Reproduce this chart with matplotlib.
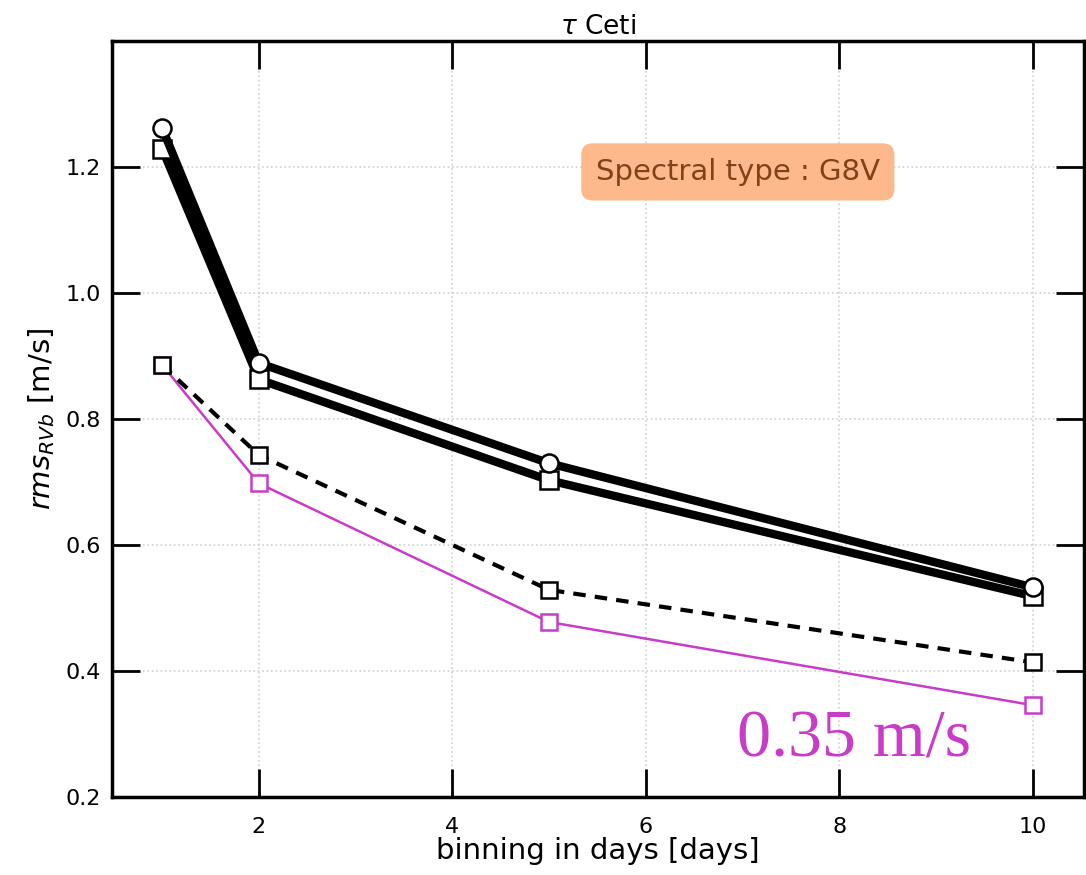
import matplotlib
matplotlib.use("Agg")
from matplotlib import pyplot as plt

# binning (days) and rms of the RV residuals (m/s)
bins = [1, 2, 5, 10]
rms_circle = [1.262, 0.889, 0.730, 0.533]
rms_square = [1.229, 0.863, 0.703, 0.519]
rms_dashed = [0.886, 0.743, 0.529, 0.414]
rms_magenta = [0.886, 0.698, 0.478, 0.346]

magenta = '#c83cc8'

fig = plt.figure(figsize=(10.86, 8.75), dpi=100)
ax = fig.add_axes([0.103, 0.089, 0.895, 0.864])

ax.plot(bins, rms_magenta, '-', color=magenta, lw=1.8,
        marker='s', ms=12, mfc='white', mec=magenta, mew=1.8, zorder=3)
ax.plot(bins, rms_dashed, '--', color='black', lw=3, dashes=(3, 2.2),
        marker='s', ms=12, mfc='white', mec='black', mew=1.8, zorder=4)
ax.plot(bins, rms_square, '-', color='black', lw=6,
        marker='s', ms=13, mfc='white', mec='black', mew=1.8, zorder=5)
ax.plot(bins, rms_circle, '-', color='black', lw=6,
        marker='o', ms=13, mfc='white', mec='black', mew=1.8, zorder=5)

ax.set_xlim(0.48, 10.53)
ax.set_ylim(0.2, 1.4)
ax.set_xticks([2, 4, 6, 8, 10])
ax.set_yticks([0.2, 0.4, 0.6, 0.8, 1.0, 1.2])

ax.grid(True, ls=':', color='#cfcfcf', lw=1.2)
ax.tick_params(direction='in', length=20, width=2, labelsize=16,
               top=True, right=True, pad=8)
ax.tick_params(axis='x', pad=14)
for sp in ax.spines.values():
    sp.set_linewidth(2.5)

ax.set_title(r'$\tau$ Ceti', fontsize=19, pad=5)
ax.set_xlabel('binning in days [days]', fontsize=21, labelpad=0)
ax.set_ylabel(r'$rms_{RVb}$ [m/s]', fontsize=21, labelpad=6)

ax.text(0.644, 0.827, 'Spectral type : G8V', transform=ax.transAxes,
        fontsize=21, color='#80421a', ha='center', va='center',
        bbox=dict(boxstyle='round,pad=0.5,rounding_size=0.4',
                  fc='#fdb98c', ec='none'))

ax.text(0.764, 0.075, '0.35 m/s', transform=ax.transAxes,
        fontsize=49, color=magenta, family='Liberation Serif',
        ha='center', va='center')

fig.savefig('out.png', dpi=100)
